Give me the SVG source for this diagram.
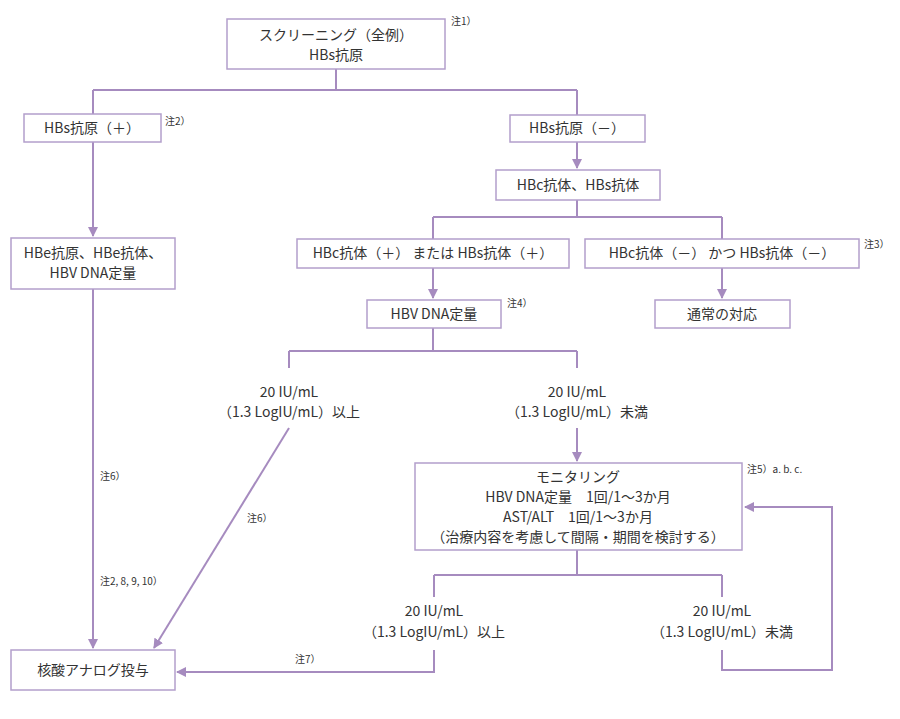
<svg xmlns="http://www.w3.org/2000/svg" width="900" height="719" viewBox="0 0 900 719">
<defs>
<marker id="ah" markerWidth="10" markerHeight="10" refX="9" refY="5" orient="auto" markerUnits="userSpaceOnUse"><path d="M0,0 L10,5 L0,10 z" fill="#a68bbf"/></marker>
</defs>
<style>
rect{fill:#fff;stroke:#b39fcb;stroke-width:1.5}
text{font-family:"Noto Sans CJK JP","Noto Sans",sans-serif;font-size:14px;fill:#333;text-anchor:middle}
.n{font-size:10px;text-anchor:start}
.c path,.c line{fill:none;stroke:#a68bbf;stroke-width:2}
</style>
<rect width="900" height="719" style="fill:#fff;stroke:none"/>
<g class="c">
<path d="M336,69 V90 M93,90 H577"/>
<path d="M93,90 V114 M577,90 V115"/>
<path d="M93,142 V236" marker-end="url(#ah)"/>
<path d="M577,142 V168" marker-end="url(#ah)"/>
<path d="M577,200 V217 M433,217 H722 M433,217 V239 M722,217 V239"/>
<path d="M433,268 V298" marker-end="url(#ah)"/>
<path d="M722,268 V298" marker-end="url(#ah)"/>
<path d="M433,328 V351 M289,351 H577 M289,351 V368 M577,351 V368"/>
<path d="M577,428 V461" marker-end="url(#ah)"/>
<path d="M577,550 V575 M434,575 H722 M434,575 V597 M722,575 V597"/>
<path d="M434,650 V672 H177" marker-end="url(#ah)"/>
<path d="M722,650 V670 H832 V507 H745" marker-end="url(#ah)"/>
<path d="M93,289 V648" marker-end="url(#ah)"/>
<path d="M289,428 L154,648" marker-end="url(#ah)"/>
</g>
<g id="n1"><rect x="227" y="19" width="218" height="50"/><text x="336" y="40">スクリーニング（全例）</text><text x="336" y="60">HBs抗原</text><text class="n" x="451" y="25">注1）</text></g>
<g id="n2"><rect x="24" y="114" width="137" height="28"/><text x="92" y="133">HBs抗原（＋）</text><text class="n" x="165" y="125">注2）</text></g>
<g id="n3"><rect x="510" y="115" width="135" height="27"/><text x="577" y="133">HBs抗原（－）</text></g>
<g id="n4"><rect x="11" y="238" width="164" height="51"/><text x="93" y="258">HBe抗原、HBe抗体、</text><text x="93" y="278">HBV DNA定量</text></g>
<g id="n5"><rect x="496" y="170" width="164" height="30"/><text x="578" y="190">HBc抗体、HBs抗体</text></g>
<g id="n6"><rect x="297" y="239" width="272" height="29"/><text x="433" y="258">HBc抗体（＋） または HBs抗体（＋）</text></g>
<g id="n7"><rect x="585" y="239" width="274" height="29"/><text x="722" y="258">HBc抗体（－） かつ HBs抗体（－）</text><text class="n" x="864" y="248">注3）</text></g>
<g id="n8"><rect x="367" y="300" width="134" height="28"/><text x="434" y="319">HBV DNA定量</text><text class="n" x="507" y="307">注4）</text></g>
<g id="n9"><rect x="655" y="300" width="135" height="28"/><text x="722" y="319">通常の対応</text></g>
<g id="l1"><text x="289" y="397">20 IU/mL</text><text x="289" y="417">（1.3 LogIU/mL）以上</text></g>
<g id="l2"><text x="577" y="397">20 IU/mL</text><text x="577" y="417">（1.3 LogIU/mL）未満</text></g>
<g id="n10"><rect x="415" y="463" width="327" height="87"/><text x="578" y="482">モニタリング</text><text x="578" y="502">HBV DNA定量　1回/1～3か月</text><text x="578" y="522">AST/ALT　1回/1～3か月</text><text x="578" y="542">（治療内容を考慮して間隔・期間を検討する）</text><text class="n" x="747" y="473">注5）a. b. c.</text></g>
<g id="l3"><text x="434" y="616">20 IU/mL</text><text x="434" y="637">（1.3 LogIU/mL）以上</text></g>
<g id="l4"><text x="722" y="616">20 IU/mL</text><text x="722" y="637">（1.3 LogIU/mL）未満</text></g>
<g id="n11"><rect x="11" y="650" width="164" height="40"/><text x="93" y="675">核酸アナログ投与</text></g>
<text class="n" x="100" y="480">注6）</text>
<text class="n" x="100" y="585">注2, 8, 9, 10）</text>
<text class="n" x="247" y="522">注6）</text>
<text class="n" x="295" y="663">注7）</text>
</svg>
